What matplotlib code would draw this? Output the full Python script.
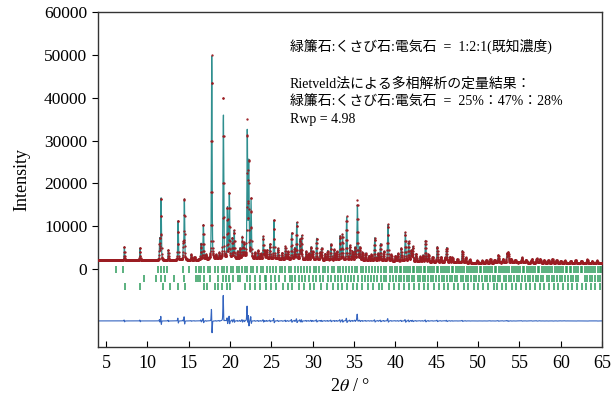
import numpy as np
import matplotlib
matplotlib.use('Agg')
import matplotlib.pyplot as plt

plt.rcParams['font.family'] = ['Liberation Serif', 'Noto Sans CJK JP']
plt.rcParams['mathtext.fontset'] = 'stix'

# 観測ピーク：位置 (2θ), 観測強度(バックグラウンド上), 計算強度
peak_pos = [7.21, 9.11, 11.49, 11.65, 12.53, 13.71, 14.35, 14.47, 15.30, 16.49,
            16.77, 17.78, 19.19, 19.67, 19.91, 20.27, 20.50, 21.47, 21.70, 22.08,
            22.25, 22.53, 24.02, 24.43, 24.83, 25.31, 27.45, 28.06, 28.46, 28.66,
            29.80, 30.47, 31.08, 32.20, 33.30, 33.60, 34.10, 35.40, 35.70, 37.50,
            38.20, 39.10, 40.70, 41.20, 41.60, 42.10, 43.65, 45.06, 46.20, 46.60,
            48.10, 49.90, 52.45, 53.50, 53.65, 55.30, 57.10, 57.50, 59.00, 63.20,
            64.40]
peak_obs = [3200, 3000, 5000, 14900, 2400, 9400, 3600, 14500, 1300, 3800,
            8300, 47700, 39000, 12000, 15800, 4800, 6700, 5200, 3600, 32000,
            22600, 14300, 5200, 2000, 3500, 9300, 6200, 8700, 4700, 5500,
            3000, 5100, 2800, 3800, 5700, 6000, 10300, 14200, 3100, 5400,
            4000, 8700, 3100, 6700, 4600, 3400, 5000, 3600, 3400, 1300,
            2800, 600, 1800, 2000, 2300, 1200, 1000, 900, 900, 900,
            700]
peak_calc = [3200, 3000, 5000, 14700, 2400, 9300, 3600, 14300, 1300, 3800,
             8200, 47700, 34000, 12000, 15500, 4800, 6600, 5200, 3600, 29700,
             22600, 14000, 5200, 2000, 3500, 9200, 6200, 8600, 4700, 5500,
             3000, 5100, 2800, 3800, 5700, 6000, 10100, 13000, 3100, 5400,
             4000, 8500, 3100, 6700, 4600, 3400, 5000, 3600, 3400, 1300,
             2800, 600, 1800, 2000, 2300, 1200, 1000, 900, 900, 900,
             700]

# 小さなピーク（観測・計算共通）
minor_pos = [15.7, 17.1, 18.3, 18.7, 20.9, 21.2, 23.0, 23.4, 23.7, 24.2,
             25.8, 26.3, 26.7, 27.0, 27.8, 29.2, 29.5, 30.0, 30.9, 31.5,
             31.8, 32.6, 32.9, 34.5, 34.8, 35.1, 36.0, 36.4, 36.8, 37.1,
             37.9, 38.6, 39.5, 40.0, 40.3, 41.9, 42.5, 43.0, 43.3, 44.0,
             44.5, 45.5, 46.0, 46.9, 47.5, 48.5, 49.0, 50.5, 51.0, 51.5,
             52.0, 53.0, 54.0, 54.5, 55.8, 56.5, 58.0, 58.5, 59.5, 60.0,
             60.5, 61.2, 61.8, 62.5, 63.8]
minor_int = [700, 1200, 1000, 1500, 1800, 2500, 1500, 2000, 1200, 1800,
             2500, 1500, 3000, 1800, 2600, 2000, 1500, 2000, 1800, 1500,
             2200, 2500, 2000, 3500, 2200, 3000, 2000, 1800, 1200, 1500,
             1800, 2200, 1500, 1200, 1800, 2500, 1800, 1200, 1500, 1800,
             1200, 1200, 1000, 1200, 800, 1200, 800, 600, 700, 900,
             700, 800, 900, 700, 700, 800, 600, 600, 700, 500,
             600, 500, 700, 600, 500]

# バックグラウンド
bg_pos = [4, 10, 15, 20, 25, 30, 35, 40, 45, 50, 55, 60, 65]
bg_int = [2000, 2000, 2100, 2300, 2300, 2100, 1900, 1800, 1600, 1400, 1500, 1400, 1300]

zero_shift = 0.004   # 計算パターンのゼロ点ずれ
diff_offset = -12100

# 反射位置（3相）
ticks_1 = [6.2, 7.1, 11.3, 11.6, 12.0, 12.4, 14.3, 15.0, 15.9, 16.2, 16.5, 16.8, 17.3, 17.6,
           18.2, 18.5, 19.0, 19.3, 19.6, 20.1, 20.4, 20.8, 21.1, 21.5, 21.8, 22.1, 22.5, 22.8,
           23.3, 23.7, 24.0, 24.5, 24.8, 25.2, 25.5, 26.0, 26.3, 26.7, 27.1, 27.4, 27.9, 28.2,
           28.6, 28.9, 29.3, 29.7, 30.1, 30.4, 30.8, 31.2, 31.5, 31.9, 32.3, 32.6, 33.0, 33.3,
           33.7, 34.0, 34.4, 34.7, 35.1, 35.4, 35.8, 36.1, 36.5, 36.8, 37.2, 37.5, 37.9, 38.2,
           38.6, 38.9, 39.3, 39.6, 40.0, 40.2, 40.5, 40.7, 41.0, 41.3, 41.5, 41.8, 42.1, 42.3,
           42.6, 42.9, 43.1, 43.4, 43.6, 43.9, 44.2, 44.4, 44.7, 45.0, 45.2, 45.5, 45.7, 46.0,
           46.3, 46.5, 46.8, 47.0, 47.3, 47.6, 47.8, 48.1, 48.3, 48.6, 48.9, 49.1, 49.4, 49.6,
           49.9, 50.2, 50.4, 50.7, 50.9, 51.2, 51.5, 51.7, 52.0, 52.2, 52.5, 52.8, 53.0, 53.3,
           53.5, 53.8, 54.1, 54.3, 54.6, 54.8, 55.1, 55.4, 55.6, 55.9, 56.1, 56.4, 56.7, 56.9,
           57.2, 57.4, 57.7, 58.0, 58.2, 58.5, 58.7, 59.0, 59.3, 59.5, 59.8, 60.0, 60.3, 60.6,
           60.8, 61.1, 61.3, 61.6, 61.9, 62.1, 62.4, 62.6, 62.9, 63.2, 63.4, 63.7, 63.9, 64.2,
           64.5, 64.7, 64.9]
ticks_2 = [9.6, 11.1, 11.6, 12.1, 13.2, 14.4, 15.9, 16.1, 16.4, 16.9, 17.6, 18.6, 19.2, 19.5,
           19.9, 20.3, 20.9, 21.2, 22.1, 22.4, 23.0, 23.6, 24.2, 24.4, 25.0, 25.4, 25.9, 26.6,
           27.2, 27.5, 27.9, 28.3, 28.7, 29.1, 29.6, 30.0, 30.4, 30.9, 31.3, 31.8, 32.2, 32.7,
           33.0, 33.4, 33.9, 34.3, 34.6, 35.0, 35.5, 35.9, 36.3, 36.7, 37.0, 37.4, 37.8, 38.2,
           38.6, 38.9, 39.3, 39.7, 40.1, 40.4, 40.7, 41.0, 41.4, 41.7, 42.0, 42.3, 42.7, 43.0,
           43.3, 43.6, 44.0, 44.3, 44.6, 44.9, 45.3, 45.6, 45.9, 46.2, 46.6, 46.9, 47.2, 47.5,
           47.9, 48.2, 48.5, 48.8, 49.2, 49.5, 49.8, 50.1, 50.5, 50.8, 51.1, 51.4, 51.8, 52.1,
           52.4, 52.7, 53.1, 53.4, 53.7, 54.0, 54.4, 54.7, 55.0, 55.3, 55.7, 56.0, 56.3, 56.6,
           57.0, 57.3, 57.6, 57.9, 58.3, 58.6, 58.9, 59.2, 59.6, 59.9, 60.2, 60.5, 60.9, 61.2,
           61.5, 61.8, 62.1, 62.9, 63.2, 63.5, 63.8, 64.2, 64.5, 64.8]
ticks_3 = [7.3, 9.1, 11.85, 12.7, 13.7, 14.55, 16.8, 17.2, 18.2, 18.6, 19.0, 19.6, 20.0, 21.8,
           22.4, 23.0, 23.6, 24.3, 25.0, 25.6, 26.4, 27.0, 27.5, 28.3, 29.0, 29.7, 30.2, 31.0,
           31.7, 32.4, 33.0, 33.6, 34.2, 34.9, 35.4, 36.0, 36.7, 37.3, 38.0, 38.4, 39.2, 39.8,
           40.4, 41.0, 41.6, 42.2, 42.9, 43.5, 44.0, 44.7, 45.3, 45.9, 46.4, 47.1, 47.6, 48.3,
           48.8, 49.5, 50.0, 50.6, 51.2, 51.9, 52.3, 52.9, 53.4, 54.1, 54.6, 55.2, 55.8, 56.3,
           56.9, 57.5, 58.0, 58.6, 59.2, 59.7, 60.3, 60.9, 61.4, 62.0, 62.6, 63.1, 63.7, 64.2,
           64.8]


def profile(x, pos, heights, shift=0.0):
    # 擬Voigt関数でピークを重ねる
    y = np.zeros_like(x)
    for p, h in zip(pos, heights):
        w = 0.07 + 0.0012 * p
        d = (x - p - shift) / w
        y += h * (0.6 * np.exp(-4 * np.log(2) * d ** 2) + 0.4 / (1 + 4 * d ** 2))
    return y


two_theta = np.arange(4.0, 65.0, 0.02)
bg = np.interp(two_theta, bg_pos, bg_int)
y_obs = bg + profile(two_theta, peak_pos, peak_obs) + profile(two_theta, minor_pos, minor_int)
y_calc = (bg + profile(two_theta, peak_pos, peak_calc, zero_shift)
          + profile(two_theta, minor_pos, minor_int, zero_shift))
y_diff = y_obs - y_calc + diff_offset

fig = plt.figure(figsize=(6.15, 3.98), dpi=100)
ax = fig.add_axes([0.159, 0.128, 0.820, 0.842])

ax.plot(two_theta, y_calc, color='#2f8f8f', lw=0.9, zorder=3)
ax.plot(two_theta, y_obs, ls='none', marker='.', ms=1.3, color='#9b1c22', zorder=4)
ax.plot(two_theta, y_diff, color='#3464c0', lw=0.8, zorder=2)

ax.vlines(ticks_1, -900, 700, color='#2e9d5c', lw=1.1)
ax.vlines(ticks_2, -3000, -1400, color='#2e9d5c', lw=1.1)
ax.vlines(ticks_3, -4900, -3300, color='#2e9d5c', lw=1.1)

ax.set_xlim(4, 65)
ax.set_ylim(-18200, 60000)
ax.set_xticks(range(5, 66, 5))
ax.set_yticks(range(0, 60001, 10000))
ax.tick_params(axis='x', direction='in', length=4, labelsize=13, pad=6)
ax.tick_params(axis='y', direction='out', length=4, labelsize=12.5)
ax.set_xlabel(r'2$\it{\theta}$ / °', fontsize=13)
ax.set_ylabel('Intensity', fontsize=13, labelpad=10)
for s in ax.spines.values():
    s.set_color('#333333')
    s.set_linewidth(1.0)

ax.text(27.2, 51900, '緑簾石:くさび石:電気石  =  1:2:1(既知濃度)', fontsize=10, va='center')
ax.text(27.2, 43200, 'Rietveld法による多相解析の定量結果：', fontsize=10, va='center')
ax.text(27.2, 39200, '緑簾石:くさび石:電気石  =  25%：47%：28%', fontsize=10, va='center')
ax.text(27.2, 35000, 'Rwp = 4.98', fontsize=10, va='center')

fig.savefig('out.png', dpi=100)
